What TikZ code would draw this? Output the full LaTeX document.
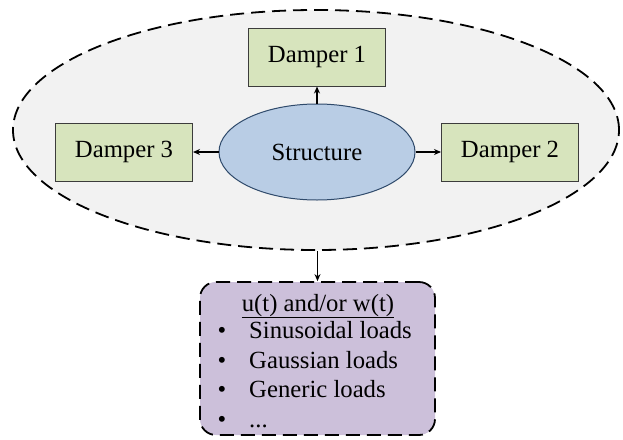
\documentclass[tikz,border=0pt]{standalone}
\usepackage{fontspec}
\setmainfont{Liberation Serif}
\usetikzlibrary{arrows.meta,shapes.geometric}
\definecolor{biggray}{HTML}{F2F2F2}
\definecolor{dampfill}{HTML}{D7E4BD}
\definecolor{dampdraw}{HTML}{3C3C3C}
\definecolor{structfill}{HTML}{B9CDE5}
\definecolor{structdraw}{HTML}{2F4A6B}
\definecolor{loadfill}{HTML}{CCC0DA}
\tikzset{
  txtfont/.style={font=\fontsize{24.7}{29}\selectfont},
  dashbig/.style={draw=black, line width=1.8pt, dash pattern=on 14pt off 7pt},
  damperbox/.style={draw=dampdraw, fill=dampfill, line width=1pt, minimum width=137pt, minimum height=58pt, inner sep=0pt, txtfont},
  structell/.style={ellipse, draw=structdraw, fill=structfill, line width=1pt, minimum width=196pt, minimum height=96pt, inner sep=0pt, txtfont},
  arr/.style={line width=1.2pt, -{Stealth[length=7pt,width=6pt]}},
  loadtxt/.style={anchor=base west, inner sep=0pt, txtfont},
  bul/.style={anchor=base, inner sep=0pt, txtfont}
}
\begin{document}
\begin{tikzpicture}[x=1pt,y=-1pt]
\useasboundingbox (0,0) rectangle (623,439);
\node[ellipse, dashbig, fill=biggray, minimum width=606pt, minimum height=240pt, inner sep=0pt] (big) at (316,130) {};
\node[structell] (st) at (317,152) {Structure};
\node[damperbox] (d1) at (317,57) {Damper 1};
\node[damperbox] (d3) at (124,152) {Damper 3};
\node[damperbox] (d2) at (510,152) {Damper 2};
\draw[arr] (st.north) -- (d1.south);
\draw[arr] (st.west) -- (d3.east);
\draw[arr] (st.east) -- (d2.west);
\node[dashbig, fill=loadfill, rounded corners=16pt, minimum width=235pt, minimum height=153pt, inner sep=0pt] (load) at (317.5,358.5) {};
\draw[arr] (load.north |- big.south) -- (load.north);
\node[anchor=base, inner sep=0pt, txtfont] (ttl) at (318,311) {\underline{u(t) and/or w(t)}};
\node[bul] (b1) at (222,338) {•};
\node[loadtxt] (t1) at (249,338) {Sinusoidal loads};
\node[bul] (b2) at (222,368) {•};
\node[loadtxt] (t2) at (249,368) {Gaussian loads};
\node[bul] (b3) at (222,397) {•};
\node[loadtxt] (t3) at (249,397) {Generic loads};
\node[bul] (b4) at (222,427) {•};
\node[loadtxt] (t4) at (249,427) {...};
\end{tikzpicture}
\end{document}
